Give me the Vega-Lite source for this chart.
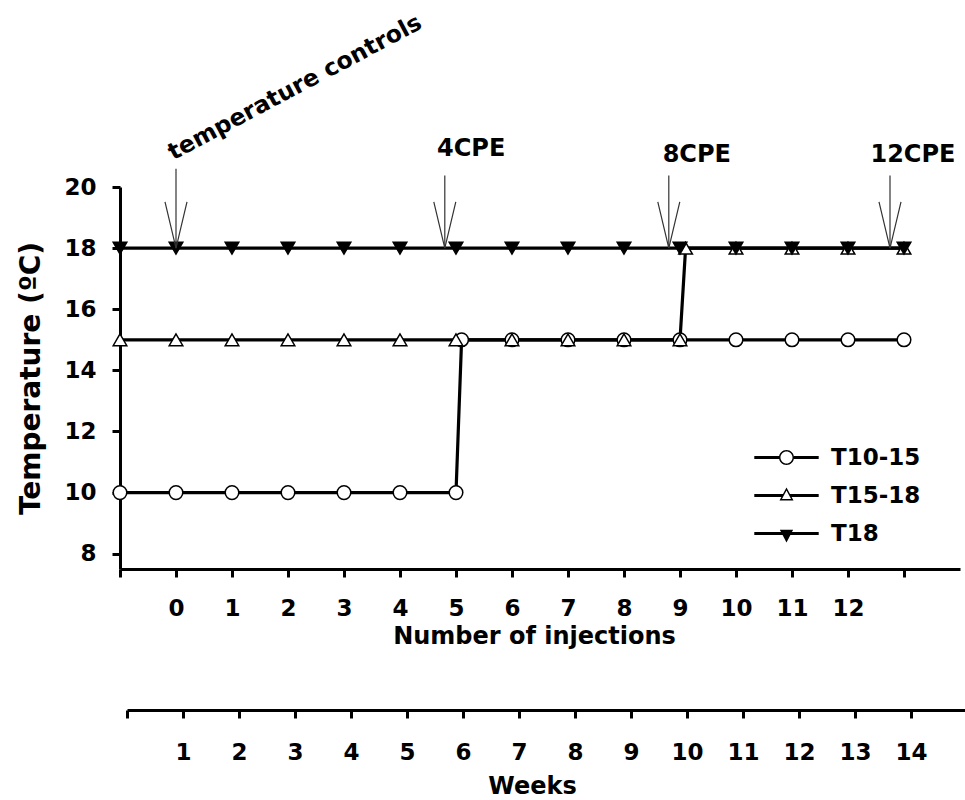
{
  "$schema": "https://vega.github.io/schema/vega-lite/v6.json",
  "width": 840,
  "height": 382,
  "autosize": "none",
  "padding": {"left": 120, "top": 187, "right": 5, "bottom": 231},
  "background": "white",
  "datasets": {
    "series": [
      {"series": "T10-15", "injection": -1, "temperature": 10},
      {"series": "T10-15", "injection": 0, "temperature": 10},
      {"series": "T10-15", "injection": 1, "temperature": 10},
      {"series": "T10-15", "injection": 2, "temperature": 10},
      {"series": "T10-15", "injection": 3, "temperature": 10},
      {"series": "T10-15", "injection": 4, "temperature": 10},
      {"series": "T10-15", "injection": 5, "temperature": 10},
      {"series": "T10-15", "injection": 5.1, "temperature": 15},
      {"series": "T10-15", "injection": 6, "temperature": 15},
      {"series": "T10-15", "injection": 7, "temperature": 15},
      {"series": "T10-15", "injection": 8, "temperature": 15},
      {"series": "T10-15", "injection": 9, "temperature": 15},
      {"series": "T10-15", "injection": 10, "temperature": 15},
      {"series": "T10-15", "injection": 11, "temperature": 15},
      {"series": "T10-15", "injection": 12, "temperature": 15},
      {"series": "T10-15", "injection": 13, "temperature": 15},
      {"series": "T15-18", "injection": -1, "temperature": 15},
      {"series": "T15-18", "injection": 0, "temperature": 15},
      {"series": "T15-18", "injection": 1, "temperature": 15},
      {"series": "T15-18", "injection": 2, "temperature": 15},
      {"series": "T15-18", "injection": 3, "temperature": 15},
      {"series": "T15-18", "injection": 4, "temperature": 15},
      {"series": "T15-18", "injection": 5, "temperature": 15},
      {"series": "T15-18", "injection": 6, "temperature": 15},
      {"series": "T15-18", "injection": 7, "temperature": 15},
      {"series": "T15-18", "injection": 8, "temperature": 15},
      {"series": "T15-18", "injection": 9, "temperature": 15},
      {"series": "T15-18", "injection": 9.1, "temperature": 18},
      {"series": "T15-18", "injection": 10, "temperature": 18},
      {"series": "T15-18", "injection": 11, "temperature": 18},
      {"series": "T15-18", "injection": 12, "temperature": 18},
      {"series": "T15-18", "injection": 13, "temperature": 18},
      {"series": "T18", "injection": -1, "temperature": 18},
      {"series": "T18", "injection": 0, "temperature": 18},
      {"series": "T18", "injection": 1, "temperature": 18},
      {"series": "T18", "injection": 2, "temperature": 18},
      {"series": "T18", "injection": 3, "temperature": 18},
      {"series": "T18", "injection": 4, "temperature": 18},
      {"series": "T18", "injection": 5, "temperature": 18},
      {"series": "T18", "injection": 6, "temperature": 18},
      {"series": "T18", "injection": 7, "temperature": 18},
      {"series": "T18", "injection": 8, "temperature": 18},
      {"series": "T18", "injection": 9, "temperature": 18},
      {"series": "T18", "injection": 10, "temperature": 18},
      {"series": "T18", "injection": 11, "temperature": 18},
      {"series": "T18", "injection": 12, "temperature": 18},
      {"series": "T18", "injection": 13, "temperature": 18}
    ],
    "arrows": [
      {"label": "temperature controls", "injection": 0, "top": 20.6, "base": 18},
      {"label": "4CPE", "injection": 4.8, "top": 20.38, "base": 18},
      {"label": "8CPE", "injection": 8.8, "top": 20.38, "base": 18},
      {"label": "12CPE", "injection": 12.75, "top": 20.38, "base": 18}
    ],
    "labels": [
      {"label": "4CPE", "labelX": 5.27, "labelY": 21.0},
      {"label": "8CPE", "labelX": 9.3, "labelY": 20.83},
      {"label": "12CPE", "labelX": 13.16, "labelY": 20.83}
    ],
    "rotated": [
      {"label": "temperature controls", "labelX": -0.05, "labelY": 20.87}
    ],
    "weeks": [
      {"week": 0}, {"week": 1}, {"week": 2}, {"week": 3}, {"week": 4},
      {"week": 5}, {"week": 6}, {"week": 7}, {"week": 8}, {"week": 9},
      {"week": 10}, {"week": 11}, {"week": 12}, {"week": 13}, {"week": 14}
    ]
  },
  "layer": [
    {
      "layer": [
        {
          "data": {"name": "series"},
          "mark": {"type": "line", "color": "black", "strokeWidth": 3.2},
          "encoding": {
            "x": {
              "field": "injection", "type": "quantitative", "title": "Number of injections",
              "scale": {"domain": [-1, 14], "nice": false, "zero": false},
              "axis": {
                "values": [-1, 0, 1, 2, 3, 4, 5, 6, 7, 8, 9, 10, 11, 12, 13],
                "labelExpr": "datum.value < 0 || datum.value > 12 ? '' : datum.label",
                "labelPadding": 20, "titlePadding": 4, "titleFontSize": 24, "titleX": 414,
                "labelFlush": false, "labelOverlap": false
              }
            },
            "y": {
              "field": "temperature", "type": "quantitative", "title": "Temperature (ºC)",
              "scale": {"domain": [7.5, 20], "nice": false, "zero": false},
              "axis": {
                "values": [8, 10, 12, 14, 16, 18, 20],
                "labelPadding": 16, "titlePadding": 18, "titleFontSize": 28
              }
            },
            "detail": {"field": "series", "type": "nominal"}
          }
        },
        {
          "data": {"name": "series"},
          "mark": {"type": "point", "filled": true, "stroke": "black", "strokeWidth": 1.5, "size": 185, "opacity": 1},
          "encoding": {
            "x": {"field": "injection", "type": "quantitative", "title": "Number of injections"},
            "y": {"field": "temperature", "type": "quantitative", "title": "Temperature (ºC)"},
            "shape": {
              "field": "series", "type": "nominal",
              "scale": {"domain": ["T10-15", "T15-18", "T18"], "range": ["circle", "triangle-up", "triangle-down"]},
              "legend": null
            },
            "fill": {
              "field": "series", "type": "nominal",
              "scale": {"domain": ["T10-15", "T15-18", "T18"], "range": ["white", "white", "black"]},
              "legend": null
            }
          }
        },
        {
          "data": {"values": []},
          "mark": {"type": "point", "filled": true, "fill": "black", "size": 196, "opacity": 1},
          "encoding": {
            "shape": {
              "field": "series", "type": "nominal",
              "scale": {
                "domain": ["T10-15", "T15-18", "T18"],
                "range": [
                  "M-4.6,-0.21H-1.06V0.21H-4.6ZM1.06,-0.21H4.6V0.21H1.06ZM-1.07,0A1.07,1.07,0,1,1,1.07,0A1.07,1.07,0,1,1,-1.07,0ZM-0.86,0A0.86,0.86,0,1,0,0.86,0A0.86,0.86,0,1,0,-0.86,0Z",
                  "M-4.6,-0.21H-0.52V0.21H-4.6ZM0.52,-0.21H4.6V0.21H0.52ZM0,-1.15L1,0.72L-1,0.72ZM0,-0.706L-0.65,0.51L0.65,0.51Z",
                  "M-4.6,-0.21H4.6V0.21H-4.6ZM-0.95,-0.55L0.95,-0.55L0,1.3Z"
                ]
              },
              "legend": {
                "orient": "none", "legendX": 655, "legendY": 259, "title": null,
                "symbolSize": 196, "symbolOpacity": 1, "symbolFillColor": "black", "symbolStrokeWidth": 0,
                "labelOffset": 33, "rowPadding": 14, "padding": 0,
                "labelFont": "DejaVu Sans", "labelFontWeight": "bold", "labelFontSize": 23, "labelColor": "black"
              }
            }
          }
        },
        {
          "data": {"name": "arrows"},
          "mark": {"type": "rule", "color": "#333333", "strokeWidth": 1.2},
          "encoding": {
            "x": {"field": "injection", "type": "quantitative", "title": "Number of injections"},
            "y": {"field": "top", "type": "quantitative", "title": "Temperature (ºC)"},
            "y2": {"field": "base"}
          }
        },
        {
          "data": {"name": "arrows"},
          "mark": {"type": "point", "shape": "M-1,-4.2L0,0L1,-4.2", "size": 484, "filled": false, "color": "#333333", "strokeWidth": 1.2, "opacity": 1},
          "encoding": {
            "x": {"field": "injection", "type": "quantitative", "title": "Number of injections"},
            "y": {"field": "base", "type": "quantitative", "title": "Temperature (ºC)"}
          }
        },
        {
          "data": {"name": "labels"},
          "mark": {"type": "text", "font": "DejaVu Sans", "fontWeight": "bold", "fontSize": 24, "align": "center", "baseline": "alphabetic", "color": "black"},
          "encoding": {
            "x": {"field": "labelX", "type": "quantitative", "title": "Number of injections"},
            "y": {"field": "labelY", "type": "quantitative", "title": "Temperature (ºC)"},
            "text": {"field": "label"}
          }
        },
        {
          "data": {"name": "rotated"},
          "mark": {"type": "text", "font": "DejaVu Sans", "fontWeight": "bold", "fontSize": 23.5, "align": "left", "baseline": "alphabetic", "angle": 332, "color": "black"},
          "encoding": {
            "x": {"field": "labelX", "type": "quantitative", "title": "Number of injections"},
            "y": {"field": "labelY", "type": "quantitative", "title": "Temperature (ºC)"},
            "text": {"field": "label"}
          }
        }
      ],
      "resolve": {"scale": {"shape": "independent"}}
    },
    {
      "data": {"name": "weeks"},
      "mark": {"type": "point", "opacity": 0},
      "encoding": {
        "x": {
          "field": "week", "type": "quantitative", "title": "Weeks",
          "scale": {"domain": [0, 15], "range": [7, 847], "nice": false, "zero": false},
          "axis": {
            "orient": "bottom", "offset": 141,
            "values": [0, 1, 2, 3, 4, 5, 6, 7, 8, 9, 10, 11, 12, 13, 14],
            "labelExpr": "datum.value == 0 ? '' : datum.label",
            "labelPadding": 23, "titlePadding": 10, "titleFontSize": 24, "titleX": 412,
            "labelFlush": false, "labelOverlap": false
          }
        }
      }
    }
  ],
  "resolve": {"scale": {"x": "independent"}},
  "config": {
    "view": {"stroke": null},
    "axis": {
      "grid": false,
      "domainColor": "black", "domainWidth": 3,
      "tickColor": "black", "tickWidth": 3, "tickSize": 8,
      "labelFont": "DejaVu Sans", "labelFontWeight": "bold", "labelFontSize": 23, "labelColor": "black",
      "titleFont": "DejaVu Sans", "titleFontWeight": "bold", "titleColor": "black"
    },
    "text": {"font": "DejaVu Sans"}
  }
}
